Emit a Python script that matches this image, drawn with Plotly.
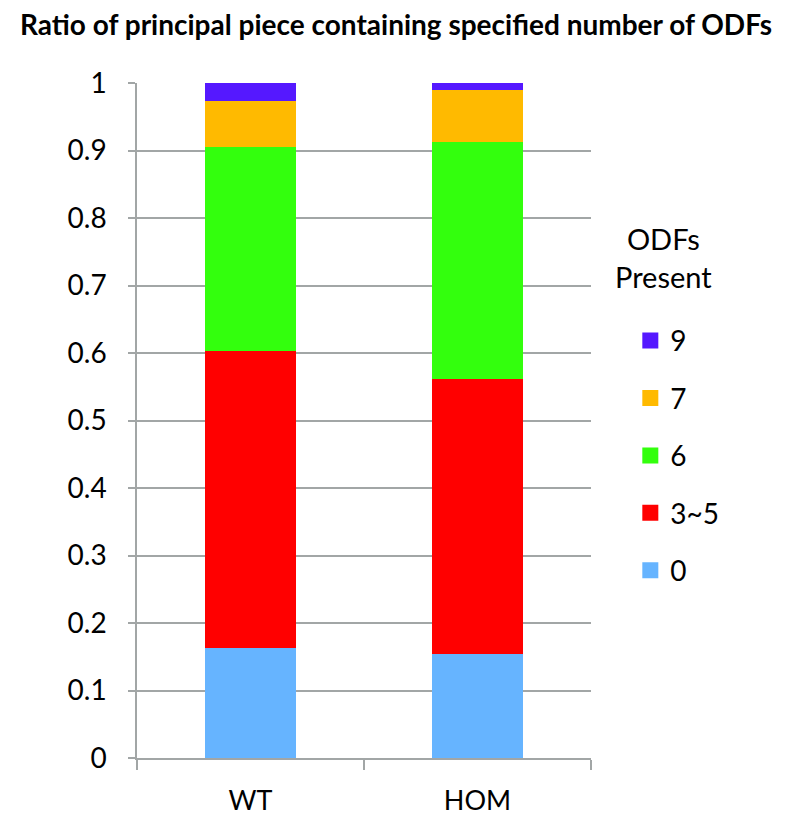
import plotly.graph_objects as go

categories = ["WT", "HOM"]
series_names = ["0", "3~5", "6", "7", "9"]
values_0 = [0.163, 0.154]
values_3_5 = [0.440, 0.407]
values_6 = [0.302, 0.352]
values_7 = [0.069, 0.077]
values_9 = [0.026, 0.010]
colors = ["#66B4FF", "#FF0000", "#33FF0D", "#FFBA00", "#5518FF"]
y_ticks = [0, 0.1, 0.2, 0.3, 0.4, 0.5, 0.6, 0.7, 0.8, 0.9, 1]
y_tick_labels = ["0", "0.1", "0.2", "0.3", "0.4", "0.5", "0.6", "0.7", "0.8", "0.9", "1"]

all_values = [values_0, values_3_5, values_6, values_7, values_9]

FONT = "Lato, Open Sans, sans-serif"
fig = go.Figure()
for i, (name, vals, col) in enumerate(zip(series_names, all_values, colors)):
    fig.add_trace(go.Bar(
        x=categories, y=vals, name=name, marker=dict(color=col, line=dict(width=0)),
        showlegend=False,
    ))
# legend entries (square swatches) for each series
for i, (name, col) in enumerate(zip(series_names, colors)):
    fig.add_trace(go.Scatter(
        x=[None], y=[None], mode="markers", name=name,
        marker=dict(symbol="square", size=18, color=col),
        legendgroup="g%d" % i, legendrank=10 - i, showlegend=True,
    ))

fig.update_layout(
    barmode="stack",
    bargap=0.6,
    width=793, height=819,
    margin=dict(l=129, r=210, t=75, b=69),
    paper_bgcolor="white", plot_bgcolor="white",
    title=dict(text="<b>Ratio of principal piece containing specified number of ODFs</b>",
               x=0.4893, xanchor="center", y=0.979, yanchor="middle",
               font=dict(family=FONT, size=28, color="black")),
    font=dict(family=FONT, color="black"),
    legend=dict(
        traceorder="grouped", tracegroupgap=18,
        font=dict(size=28, family=FONT),
        x=1.0866, xanchor="left", y=0.655, yanchor="top",
        itemwidth=30, itemsizing="trace",
    ),
    showlegend=True,
    annotations=[dict(
        text="ODFs<br>Present", xref="paper", yref="paper",
        x=1.1586, y=0.7415, xanchor="center", yanchor="middle",
        showarrow=False, font=dict(size=29, family=FONT, color="black"),
    )],
)
fig.update_yaxes(
    range=[0, 1], tickvals=y_ticks, ticktext=y_tick_labels,
    showgrid=True, gridcolor="#A2A6A6", gridwidth=1.5,
    showline=True, linecolor="#A2A6A6", linewidth=1.5,
    ticks="outside", ticklen=7, tickcolor="#A2A6A6", tickwidth=1.5,
    tickfont=dict(size=28, family=FONT), ticklabelstandoff=16,
    zeroline=False,
)
fig.update_xaxes(
    showline=True, linecolor="#A2A6A6", linewidth=1.5,
    ticks="outside", ticklen=10, tickcolor="#A2A6A6", tickwidth=1.5,
    tickson="boundaries", showgrid=False,
    tickfont=dict(size=27, family=FONT), ticklabelstandoff=18,
)
fig.write_html("out.html")
